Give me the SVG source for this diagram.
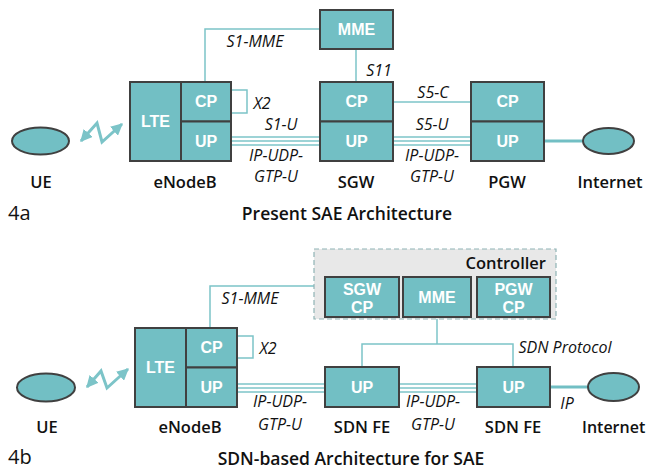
<svg xmlns="http://www.w3.org/2000/svg" width="647" height="470" viewBox="0 0 647 470">
<defs>
<style>
.box{fill:#72bfc4;stroke:#404040;stroke-width:2}
.bt{fill:#fff;font-family:"Liberation Sans",Arial,sans-serif;font-weight:bold;font-size:16px;text-anchor:middle}
.lbl{fill:#111;font-family:"Open Sans","Noto Sans",sans-serif;font-weight:600;font-size:16.5px;text-anchor:middle}
.it{fill:#111;font-family:"Open Sans","Noto Sans",sans-serif;font-style:italic;font-size:16px;text-anchor:middle}
.ttl{fill:#111;font-family:"Open Sans","Noto Sans",sans-serif;font-weight:600;font-size:17.5px;text-anchor:middle}
.fig{fill:#111;font-family:"Open Sans","Noto Sans",sans-serif;font-size:20px}
.ln{fill:none;stroke:#7cc4c8;stroke-width:1.5}
.tri{fill:none;stroke:#7cc4c8;stroke-width:1.5}
.ell{fill:#72bfc4;stroke:#404040;stroke-width:2}
</style>
<marker id="ah" viewBox="0 0 10 10" refX="9" refY="5" markerWidth="4" markerHeight="4" orient="auto-start-reverse">
<path d="M0,0 L10,5 L0,10 z" fill="#7cc4c8"/>
</marker>
</defs>
<rect width="647" height="470" fill="#fff"/>

<g id="connectors">
<polyline class="ln" points="205,82 205,29 320,29"/>
<polyline class="ln" points="231,90 247,90 247,113 231,113"/>
<line class="tri" x1="231" y1="137" x2="320" y2="137"/>
<line class="tri" x1="231" y1="141" x2="320" y2="141"/>
<line class="tri" x1="231" y1="145" x2="320" y2="145"/>
<line class="ln" x1="356" y1="49" x2="356" y2="82"/>
<line class="ln" x1="393" y1="102" x2="471" y2="102"/>
<line class="tri" x1="393" y1="137" x2="471" y2="137"/>
<line class="tri" x1="393" y1="141" x2="471" y2="141"/>
<line class="tri" x1="393" y1="145" x2="471" y2="145"/>
<line x1="544" y1="141" x2="583" y2="141" stroke="#72bfc4" stroke-width="3"/>
<polyline fill="none" stroke="#7cc4c8" stroke-width="3" points="81,141 97,123 102,142 122,124" marker-start="url(#ah)" marker-end="url(#ah)"/>
<polyline class="ln" points="210,328 210,286 314,286"/>
<polyline class="ln" points="237,336 253,336 253,358 237,358"/>
<line class="tri" x1="237" y1="384" x2="325" y2="384"/>
<line class="tri" x1="237" y1="388" x2="325" y2="388"/>
<line class="tri" x1="237" y1="392" x2="325" y2="392"/>
<line class="tri" x1="399" y1="384" x2="477" y2="384"/>
<line class="tri" x1="399" y1="388" x2="477" y2="388"/>
<line class="tri" x1="399" y1="392" x2="477" y2="392"/>
<polyline class="ln" points="437,318 437,344"/>
<polyline class="ln" points="362,367 362,344 513,344 513,367"/>
<line x1="550" y1="387" x2="588" y2="387" stroke="#72bfc4" stroke-width="3"/>
<polyline fill="none" stroke="#7cc4c8" stroke-width="3" points="87,387 101,371 107,388 128,369" marker-start="url(#ah)" marker-end="url(#ah)"/>
</g>

<g id="ue1"><ellipse class="ell" cx="40.5" cy="141" rx="28.5" ry="13.5"/><text class="lbl" x="41" y="188">UE</text></g>
<g id="enb1">
<rect class="box" x="130" y="82" width="51" height="79"/>
<rect class="box" x="181" y="82" width="50" height="39.5"/>
<rect class="box" x="181" y="121.5" width="50" height="39.5"/>
<text class="bt" x="155.5" y="127">LTE</text>
<text class="bt" x="206" y="107">CP</text>
<text class="bt" x="206" y="147">UP</text>
<text class="lbl" x="185" y="188">eNodeB</text>
</g>
<g id="mme1"><rect class="box" x="320" y="10" width="73" height="39"/><text class="bt" x="356.5" y="35">MME</text></g>
<g id="sgw1">
<rect class="box" x="320" y="82" width="73" height="39.5"/>
<rect class="box" x="320" y="121.5" width="73" height="39.5"/>
<text class="bt" x="356.5" y="107">CP</text>
<text class="bt" x="356.5" y="147">UP</text>
<text class="lbl" x="356" y="188">SGW</text>
</g>
<g id="pgw1">
<rect class="box" x="471" y="82" width="73" height="39.5"/>
<rect class="box" x="471" y="121.5" width="73" height="39.5"/>
<text class="bt" x="507.5" y="107">CP</text>
<text class="bt" x="507.5" y="147">UP</text>
<text class="lbl" x="507" y="188">PGW</text>
</g>
<g id="inet1"><ellipse class="ell" cx="608.5" cy="141" rx="25.5" ry="13"/><text class="lbl" x="610" y="188">Internet</text></g>

<g id="labels-top">
<text class="it" x="255" y="47">S1-MME</text>
<text class="it" x="262" y="109">X2</text>
<text class="it" x="281" y="130">S1-U</text>
<text class="it" x="276" y="161">IP-UDP-</text>
<text class="it" x="276" y="182">GTP-U</text>
<text class="it" x="379" y="76">S11</text>
<text class="it" x="433" y="98">S5-C</text>
<text class="it" x="432" y="130">S5-U</text>
<text class="it" x="432" y="161">IP-UDP-</text>
<text class="it" x="432" y="182">GTP-U</text>
<text class="fig" x="8" y="220">4a</text>
<text class="ttl" x="347" y="220">Present SAE Architecture</text>
</g>

<g id="controller">
<rect x="314" y="249" width="242" height="70" fill="#e8e8e8" stroke="#8fb3b5" stroke-width="1.2" stroke-dasharray="5,3"/>
<text class="lbl" x="546" y="269" style="text-anchor:end">Controller</text>
</g>
<g id="sgwcp"><rect class="box" x="325" y="277" width="74" height="40"/><text class="bt" x="362" y="295">SGW</text><text class="bt" x="362" y="313">CP</text></g>
<g id="mme2"><rect class="box" x="403" y="277" width="68" height="40"/><text class="bt" x="437" y="303">MME</text></g>
<g id="pgwcp"><rect class="box" x="477" y="277" width="73" height="40"/><text class="bt" x="513.5" y="295">PGW</text><text class="bt" x="513.5" y="313">CP</text></g>
<g id="ue2"><ellipse class="ell" cx="46" cy="387.5" rx="29" ry="14"/><text class="lbl" x="47" y="433">UE</text></g>
<g id="enb2">
<rect class="box" x="135" y="328" width="51" height="79"/>
<rect class="box" x="186" y="328" width="51" height="39.5"/>
<rect class="box" x="186" y="367.5" width="51" height="39.5"/>
<text class="bt" x="160.5" y="373">LTE</text>
<text class="bt" x="211.5" y="353">CP</text>
<text class="bt" x="211.5" y="393">UP</text>
<text class="lbl" x="190" y="433">eNodeB</text>
</g>
<g id="fe1"><rect class="box" x="325" y="367" width="74" height="40"/><text class="bt" x="362" y="393">UP</text><text class="lbl" x="362" y="433">SDN FE</text></g>
<g id="fe2"><rect class="box" x="477" y="367" width="73" height="40"/><text class="bt" x="513.5" y="393">UP</text><text class="lbl" x="513" y="433">SDN FE</text></g>
<g id="inet2"><ellipse class="ell" cx="613.5" cy="387" rx="25.5" ry="14"/><text class="lbl" x="582" y="433" style="text-anchor:start;font-size:16px">Internet</text></g>

<g id="labels-bottom">
<text class="it" x="250" y="304">S1-MME</text>
<text class="it" x="268" y="354">X2</text>
<text class="it" x="280" y="407">IP-UDP-</text>
<text class="it" x="280" y="430">GTP-U</text>
<text class="it" x="433" y="407">IP-UDP-</text>
<text class="it" x="433" y="430">GTP-U</text>
<text class="it" x="565" y="353">SDN Protocol</text>
<text class="it" x="567" y="409">IP</text>
<text class="fig" x="8" y="464">4b</text>
<text class="ttl" x="351" y="465">SDN-based Architecture for SAE</text>
</g>
</svg>
